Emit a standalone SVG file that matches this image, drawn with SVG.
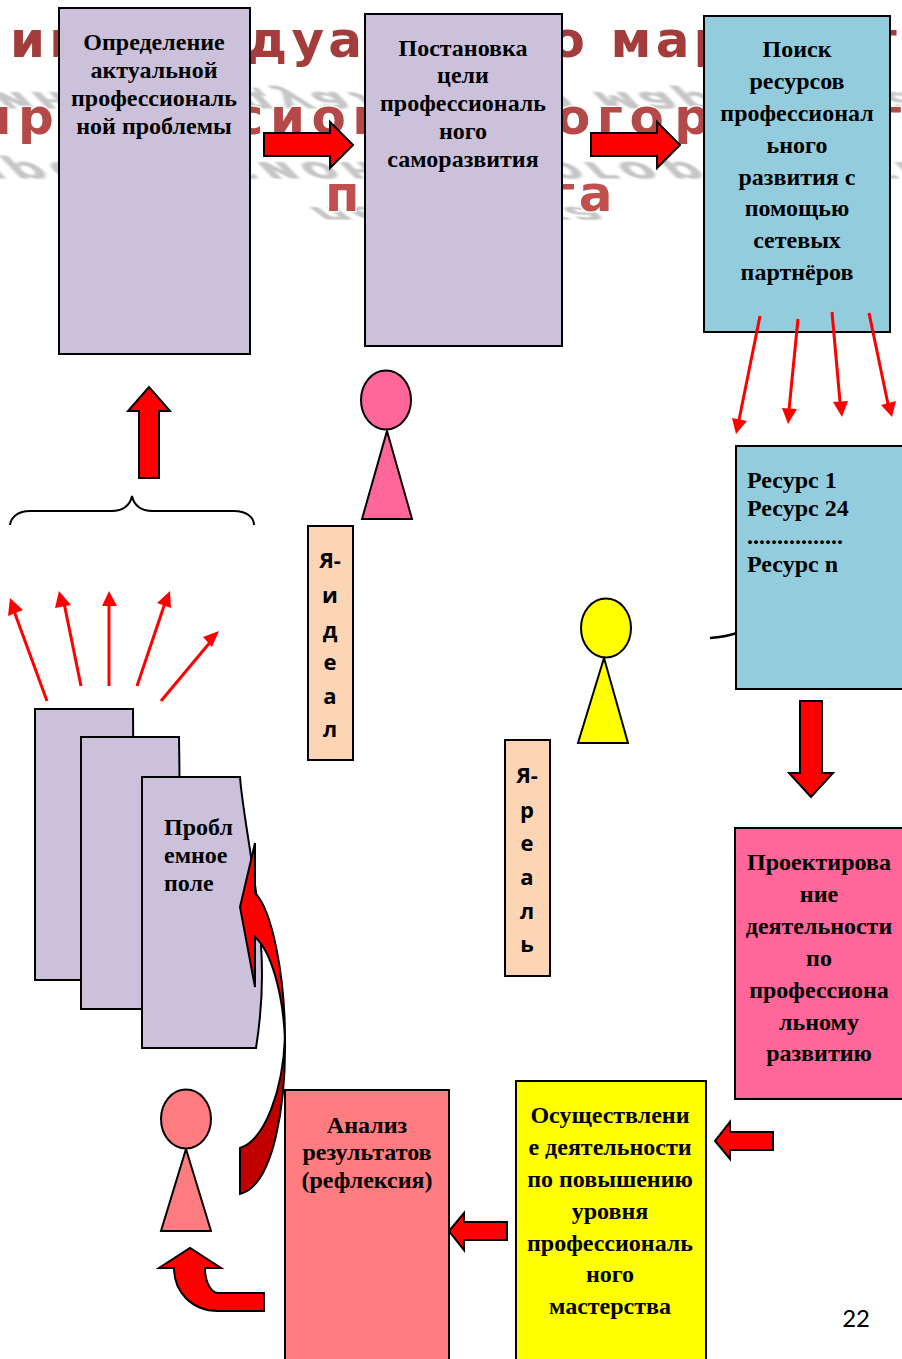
<svg xmlns="http://www.w3.org/2000/svg" width="902" height="1359" viewBox="0 0 902 1359">
<style>
.box{stroke:#000;stroke-width:2}
.lil{fill:#ccc1da}.blue{fill:#93cddd}.peach{fill:#fcd5b5}.rose{fill:#ff6699}.sal{fill:#ff7c80}.yel{fill:#ffff00}
.t{font:bold 24px "Liberation Serif",serif;fill:#000;text-anchor:middle}
.l{font:bold 24px "Liberation Serif",serif;fill:#000}
.c{font:bold 22px "Open Sans","Noto Sans",sans-serif;fill:#000;text-anchor:middle}
.bg{font:bold 50px "DejaVu Sans",sans-serif;stroke:#fff;stroke-width:2.500px;paint-order:stroke}
.ar{fill:#f00;stroke:#000;stroke-width:2}
.ln{stroke:#f00;stroke-width:3;fill:none}
.hd{fill:#f00}
.sh{font:bold 50px "DejaVu Sans",sans-serif;fill:#c6c6c6}
</style>
<defs>
<filter id="b" x="-5%" y="-50%" width="110%" height="200%"><feGaussianBlur stdDeviation="1.500"/></filter>
</defs>
<g id="title">
<text class="sh" filter="url(#b)" letter-spacing="4.200" transform="matrix(1 0 -.6 -.62 -12 92)">индивидуального маршрута</text>
<text class="sh" filter="url(#b)" letter-spacing="6.500" word-spacing="-20" transform="matrix(1 0 -.6 -.62 -40 162)">профессионального развития</text>
<text class="sh" filter="url(#b)" letter-spacing="3.500" transform="matrix(1 0 -.6 -.45 305 207)">педагога</text>
<text class="bg" letter-spacing="4.200" x="10" y="57" fill="#a33c3a">индивидуального маршрута</text>
<text class="bg" letter-spacing="6.500" word-spacing="-20" x="-23" y="134" fill="#b44a47">профессионального развития</text>
<text class="bg" letter-spacing="3.500" x="325" y="211" fill="#bf504d">педагога</text>
</g>
<g id="node-problem"><rect class="box lil" x="59" y="8" width="191" height="346"/>
<text class="t" x="154" y="50">Определение</text><text class="t" x="154" y="78">актуальной</text><text class="t" x="154" y="106">профессиональ</text><text class="t" x="154" y="134">ной проблемы</text></g>
<g id="node-goal"><rect class="box lil" x="365" y="14" width="197" height="332"/>
<text class="t" x="463" y="56">Постановка</text><text class="t" x="463" y="83">цели</text><text class="t" x="463" y="111">профессиональ</text><text class="t" x="463" y="139">ного</text><text class="t" x="463" y="167">саморазвития</text></g>
<g id="node-search"><rect class="box blue" x="704" y="16" width="186" height="316"/>
<text class="t" x="797" y="57">Поиск</text><text class="t" x="797" y="89">ресурсов</text><text class="t" x="797" y="121">профессионал</text><text class="t" x="797" y="153">ьного</text><text class="t" x="797" y="185">развития с</text><text class="t" x="797" y="216">помощью</text><text class="t" x="797" y="248">сетевых</text><text class="t" x="797" y="280">партнёров</text></g>
<g id="node-resources"><path d="M710 638Q725 637 737 633" fill="none" stroke="#000" stroke-width="2.500"/><rect class="box blue" x="736" y="446" width="172" height="243"/>
<text class="l" x="747" y="488">Ресурс 1</text><text class="l" x="747" y="516">Ресурс 24</text><text class="l" x="747" y="544">................</text><text class="l" x="747" y="572">Ресурс n</text></g>
<g id="node-design"><rect class="box rose" x="735" y="828" width="172" height="271"/>
<text class="t" x="819" y="870">Проектирова</text><text class="t" x="819" y="902">ние</text><text class="t" x="819" y="934">деятельности</text><text class="t" x="819" y="966">по</text><text class="t" x="819" y="998">профессиона</text><text class="t" x="819" y="1030">льному</text><text class="t" x="819" y="1061">развитию</text></g>
<g id="node-implement"><rect class="box yel" x="516" y="1081" width="190" height="285"/>
<text class="t" x="610" y="1123">Осуществлени</text><text class="t" x="610" y="1155">е деятельности</text><text class="t" x="610" y="1187">по повышению</text><text class="t" x="610" y="1219">уровня</text><text class="t" x="610" y="1251">профессиональ</text><text class="t" x="610" y="1282">ного</text><text class="t" x="610" y="1314">мастерства</text></g>
<g id="node-analysis"><rect class="box sal" x="285" y="1090" width="164" height="280"/>
<text class="t" x="367" y="1133">Анализ</text><text class="t" x="367" y="1160">результатов</text><text class="t" x="367" y="1188">(рефлексия)</text></g>
<g id="node-field">
<path class="box lil" d="M35 709H133Q134 840 133 980H35Z"/>
<path class="box lil" d="M81 737H179Q181 870 179 1009H81Z"/>
<path class="box lil" d="M142 777H240C243 820 262 900 262 975Q262 1010 256 1048H142Z"/>
<text class="l" x="164" y="835">Пробл</text><text class="l" x="164" y="863">емное</text><text class="l" x="164" y="891">поле</text></g>
<g id="node-ideal-person"><path class="box rose" d="M387 431L412 519H362Z"/><ellipse class="box rose" cx="386" cy="400" rx="25" ry="29.500"/></g>
<g id="node-ideal-label"><rect class="box peach" x="308" y="526" width="45" height="234"/>
<text class="c" x="330" y="568">Я-</text><text class="c" x="330" y="603">и</text><text class="c" x="330" y="638">д</text><text class="c" x="330" y="670">е</text><text class="c" x="330" y="704">а</text><text class="c" x="330" y="737">л</text></g>
<g id="node-real-person"><path class="box yel" d="M604 658L628 743H578Z"/><ellipse class="box yel" cx="606" cy="628" rx="25" ry="29.500"/></g>
<g id="node-real-label"><rect class="box peach" x="505" y="740" width="45" height="236"/>
<text class="c" x="527" y="783">Я-</text><text class="c" x="527" y="818">р</text><text class="c" x="527" y="851">е</text><text class="c" x="527" y="885">а</text><text class="c" x="527" y="919">л</text><text class="c" x="527" y="952">ь</text></g>
<g id="node-reflect-person"><path class="box sal" d="M186 1149L211 1231H161Z"/><ellipse class="box sal" cx="186" cy="1119" rx="25" ry="29.500"/></g>
<g id="connectors">
<path class="ar" d="M264 133H330V122L353 145L330 168V156H264Z"/>
<path class="ar" d="M591 133H657V122L680 145L657 168V156H591Z"/>
<path class="ar" d="M139 478V411H128L149 387L170 411H159V478Z"/>
<path d="M10 525C11 517 18 511 30 511H112C122 511 130 506 132 496C134 506 142 511 152 511H234C246 511 254 517 254 525" fill="none" stroke="#000" stroke-width="2"/>
<path class="ar" d="M800 701H822V773H833L811 797L789 773H800Z"/>
<path class="ar" d="M773 1132V1150H730V1159L715 1141L730 1122V1132Z"/>
<path class="ar" d="M507 1222V1240H464V1250L449 1231L464 1213V1222Z"/>
<path class="ar" d="M264 1293V1311H218C192 1311 174 1292 174 1268H159L190 1248L221 1268H205C205 1282 211 1293 218 1293Z"/>
<path d="M240 1148C265 1140 283 1090 285 1037C286 1100 275 1185 240 1194Z" fill="#c00000" stroke="#000" stroke-width="2"/>
<path class="ar" d="M255 843V893C272 910 285 975 285 1040C283 990 270 950 255 937V987L240 907Z"/>
<g class="ln">
<path d="M47 701L14 611"/><path d="M81 686L64 603"/><path d="M109 686V603"/><path d="M137 686L165 603"/><path d="M161 701L212 640"/>
<path d="M760 316L739 420"/><path d="M798 319L789 410"/><path d="M832 312L840 402"/><path d="M869 313L888 404"/>
</g>
<g class="hd">
<path d="M10 598L23 610L8 616Z"/><path d="M59 591L71 605L55 608Z"/><path d="M109 591L117 606H102Z"/><path d="M170 591L171 608L157 603Z"/><path d="M219 631L212 647L203 637Z"/>
<path d="M736 434L732 418L747 421Z"/><path d="M788 424L782 408L797 409Z"/><path d="M842 417L833 402L848 401Z"/><path d="M892 417L881 405L896 401Z"/>
</g>
</g>
<text x="856" y="1327" font-family="Carlito,'Open Sans',sans-serif" font-size="27" text-anchor="middle">22</text>
</svg>
